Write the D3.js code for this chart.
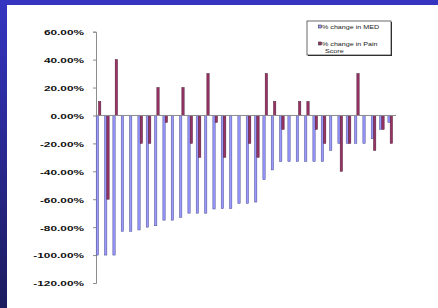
<!DOCTYPE html>
<html>
<head>
<meta charset="utf-8">
<script src="https://cdn.jsdelivr.net/npm/d3@7"></script>
<style>
  html, body { margin: 0; padding: 0; }
  body { width: 438px; height: 308px; overflow: hidden; }
  svg { display: block; }
</style>
</head>
<body>
<svg id="chart"></svg>
<script>
// data
const patients = d3.range(1, 37);
const medChange = [-1.00, -1.00, -1.00, -0.83, -0.83, -0.82, -0.80, -0.79, -0.75, -0.75,
                   -0.73, -0.70, -0.70, -0.70, -0.67, -0.667, -0.667, -0.63, -0.63, -0.62,
                   -0.46, -0.39, -0.33, -0.33, -0.33, -0.33, -0.33, -0.33, -0.25, -0.20,
                   -0.20, -0.20, -0.20, -0.167, -0.10, -0.05];
const painChange = [0.10, -0.60, 0.40, 0, 0, -0.20, -0.20, 0.20, -0.05, 0,
                    0.20, -0.20, -0.30, 0.30, -0.05, -0.30, 0, 0, -0.20, -0.30,
                    0.30, 0.10, -0.10, 0, 0.10, 0.10, -0.10, -0.20, 0, -0.40,
                    -0.20, 0.30, 0, -0.25, -0.10, -0.20];
const yTicks = [0.6, 0.4, 0.2, 0, -0.2, -0.4, -0.6, -0.8, -1.0, -1.2];
const yTickLabels = ["60.00%", "40.00%", "20.00%", "0.00%", "-20.00%", "-40.00%",
                     "-60.00%", "-80.00%", "-100.00%", "-120.00%"];
const seriesNames = ["% change in MED", "% change in Pain Score"];
const seriesColors = ["#9999ff", "#993366"];

const W = 438, H = 308;
const svg = d3.select("#chart").attr("width", W).attr("height", H);

// slide background
const grad = svg.append("defs").append("linearGradient")
    .attr("id", "bg").attr("x1", 0).attr("y1", 0).attr("x2", 0).attr("y2", 1);
grad.append("stop").attr("offset", "0%").attr("stop-color", "#3535c2");
grad.append("stop").attr("offset", "100%").attr("stop-color", "#1b1b5e");
svg.append("rect").attr("width", W).attr("height", H).attr("fill", "url(#bg)");
svg.append("rect").attr("x", 7).attr("y", 5).attr("width", W - 7).attr("height", H - 5)
    .attr("fill", "#fff");

// scales
const x = d3.scaleBand().domain(patients).range([96, 396]).padding(0);
const xs = d3.scaleBand().domain([0, 1]).range([0.2, x.bandwidth() * 0.58]);
const y = d3.scaleLinear().domain([-1.2, 0.6]).range([283, 31.7]);

const font = "'Liberation Sans', Arial, sans-serif";

// y axis
const yAxis = svg.append("g")
    .attr("transform", "translate(96,0)")
    .call(d3.axisLeft(y).tickValues(yTicks).tickSize(3).tickPadding(9)
        .tickFormat((d, i) => yTickLabels[i]));
yAxis.select(".domain").attr("stroke", "#8c8c8c");
yAxis.selectAll(".tick line").attr("stroke", "#8c8c8c");
yAxis.selectAll(".tick text")
    .attr("x", null).attr("dy", "0.36em")
    .attr("transform", "translate(-12,0) scale(1.48,1)")
    .style("font-family", font).style("font-weight", "bold")
    .style("font-size", "8px").attr("fill", "#111");

// bars
const bars = svg.append("g");
[medChange, painChange].forEach((vals, s) => {
    bars.selectAll(".s" + s)
        .data(vals)
        .enter().append("rect")
        .attr("class", "s" + s)
        .attr("x", (d, i) => x(patients[i]) + xs(s))
        .attr("width", xs.bandwidth())
        .attr("y", d => y(Math.max(0, d)))
        .attr("height", d => Math.abs(y(d) - y(0)))
        .attr("fill", seriesColors[s])
        .attr("stroke", s === 0 ? "#4a4a8a" : "#4a1a30")
        .attr("stroke-width", 0.5);
});

// zero line
svg.append("line")
    .attr("x1", 96).attr("x2", 396)
    .attr("y1", y(0)).attr("y2", y(0))
    .attr("stroke", "#8c8c8c").attr("stroke-width", 1);

// legend
const lg = svg.append("g").attr("transform", "translate(307,21)");
lg.append("rect").attr("x", 1).attr("y", 1).attr("width", 84).attr("height", 34).attr("fill", "#222");
lg.append("rect").attr("width", 84).attr("height", 34)
    .attr("fill", "#fff").attr("stroke", "#444").attr("stroke-width", 0.8);
const lgRows = [{ y: 5, lines: ["% change in MED"] },
                { y: 22, lines: ["% change in Pain", "Score"] }];
lgRows.forEach((r, s) => {
    lg.append("rect").attr("x", 11.5).attr("y", r.y - 1).attr("width", 3).attr("height", 3)
        .attr("fill", seriesColors[s]).attr("stroke", "#222").attr("stroke-width", 0.5);
    r.lines.forEach((t, k) => {
        lg.append("text")
            .attr("transform", `translate(${15 + k * 3},${r.y + 2.5 + k * 7.5}) scale(1.3,1)`)
            .style("font-family", font).style("font-size", "5.5px")
            .attr("fill", "#222")
            .text(t);
    });
});
</script>
</body>
</html>
